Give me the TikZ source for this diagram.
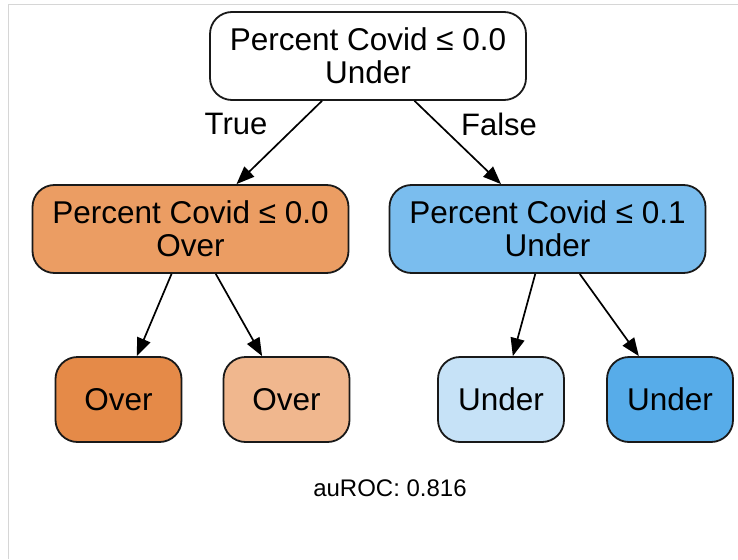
\documentclass[tikz,border=0pt]{standalone}
\usepackage{fontspec}
\setmainfont{Liberation Sans}
\usetikzlibrary{arrows.meta}
\definecolor{frame}{HTML}{D6D6D6}
\definecolor{omid}{HTML}{EB9D63}
\definecolor{ofull}{HTML}{E58A48}
\definecolor{olight}{HTML}{F0B78E}
\definecolor{bmid}{HTML}{7ABDEE}
\definecolor{blight}{HTML}{C6E2F7}
\definecolor{bfull}{HTML}{57ACE9}
\begin{document}
\begin{tikzpicture}[x=1pt,y=-1pt,
  box/.style={draw=black!90, line width=1.8pt, rounded corners=22pt, align=center,
    font=\fontsize{31.5}{33}\selectfont, inner sep=0pt},
  wide/.style={box, minimum width=316pt, minimum height=88pt},
  leaf/.style={box, minimum width=126pt, minimum height=85pt},
  edge/.style={draw=black, line width=1.7pt, -{Triangle[length=18pt,width=14pt]}},
  lbl/.style={font=\fontsize{31}{33}\selectfont, inner sep=0pt}]
\useasboundingbox (0,0) rectangle (738,559);
\fill[white] (0,0) rectangle (738,559);
\draw[frame, line width=1pt] (8,559) -- (8,5) -- (738,5);

\node[wide, fill=white] (root) at (368,56) {Percent Covid ≤ 0.0\\Under};
\node[wide, fill=omid] (lmid) at (190.5,229) {Percent Covid ≤ 0.0\\Over};
\node[wide, fill=bmid] (rmid) at (547.5,229) {Percent Covid ≤ 0.1\\Under};
\node[leaf, fill=ofull] (l1) at (118.5,399.5) {Over};
\node[leaf, fill=olight] (l2) at (286.5,399.5) {Over};
\node[leaf, fill=blight] (l3) at (501,399.5) {Under};
\node[leaf, fill=bfull] (l4) at (670,399.5) {Under};

\draw[edge] (root) -- (lmid);
\draw[edge] (root) -- (rmid);
\draw[edge] (lmid) -- (l1);
\draw[edge] (lmid) -- (l2);
\draw[edge] (rmid) -- (l3);
\draw[edge] (rmid) -- (l4);

\node[lbl] (tlab) at (236,124) {True};
\node[lbl] (flab) at (499,124) {False};
\node[font=\fontsize{24}{26}\selectfont, inner sep=0pt] (auc) at (390,488) {auROC: 0.816};
\end{tikzpicture}
\end{document}
